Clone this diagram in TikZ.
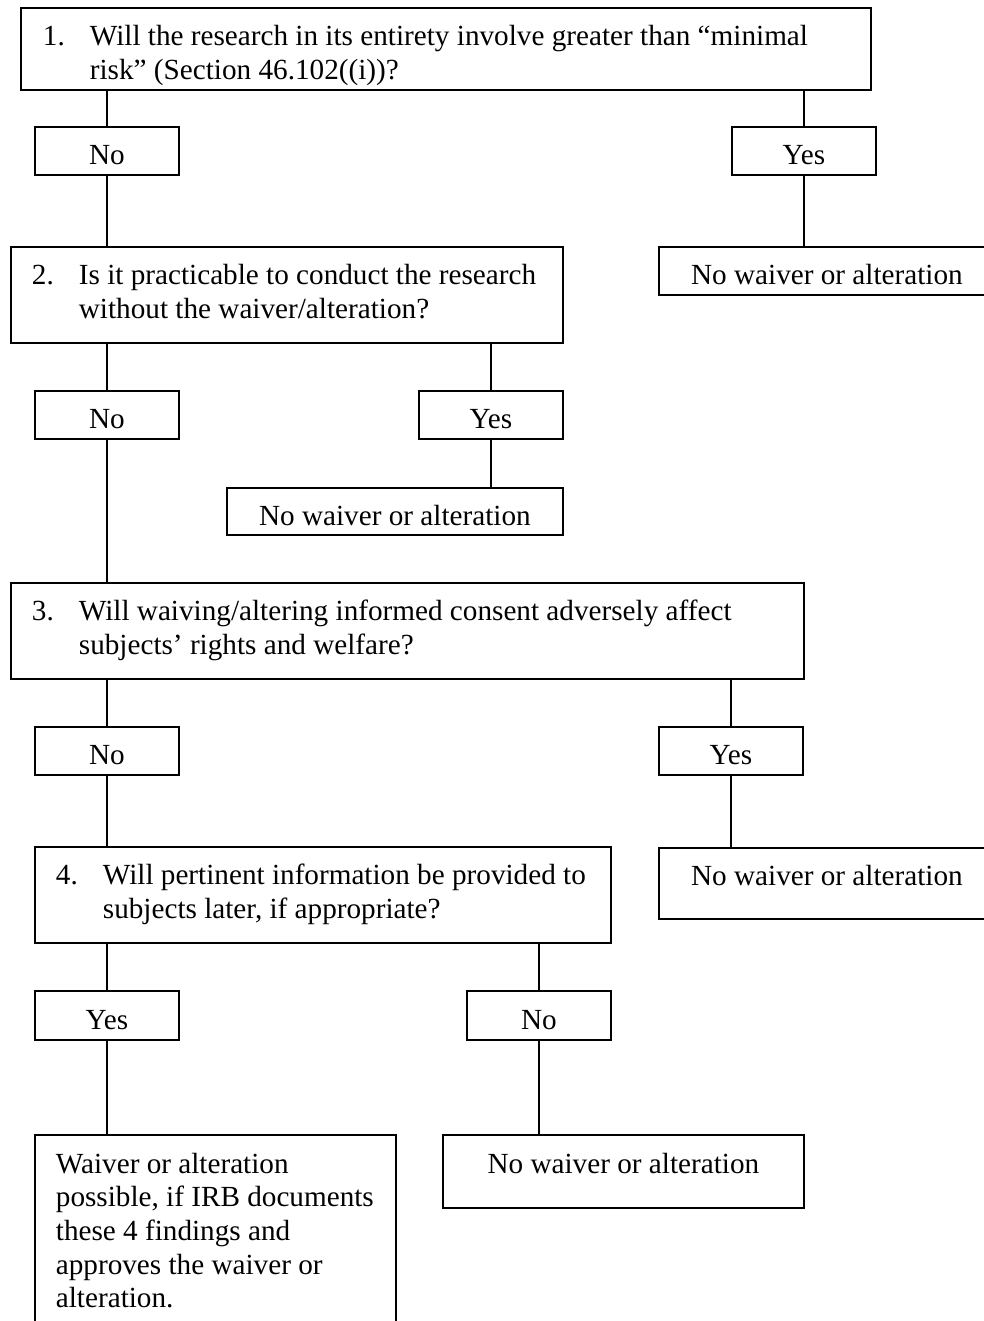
\documentclass[tikz,border=0pt]{standalone}
\usepackage{fontspec}
\setmainfont{Liberation Serif}
\usepackage{tikz}

% box contents: width, height, text (left or centred)
\newcommand{\qtext}[3]{\parbox[c][#2pt][t]{#1pt}{\vspace*{14.5pt}\strut#3}}
\newcommand{\atext}[3]{\parbox[c][#2pt][t]{#1pt}{\vspace*{14.5pt}\centering\strut#3}}

\begin{document}
\begin{tikzpicture}[x=1pt,y=1pt,yscale=-1,xscale=1,
  qbox/.style={draw, line width=1.8pt, inner sep=0pt, anchor=north west,
    font=\fontsize{29.2pt}{33.7pt}\selectfont},
  link/.style={line width=1.8pt}]
\useasboundingbox (0,0) rectangle (984,1321);

%Question 1
\node[qbox] (q1) at (20,7) {\qtext{850}{82}{\hspace*{22pt}\makebox[47pt][l]{1.}Will the research in its entirety involve greater than “minimal\\
  \hspace*{69pt}risk” (Section 46.102((i))?}};
\node[qbox] (no1) at (34,126) {\atext{144}{48}{No}};
\node[qbox] (yes1) at (731,126) {\atext{144}{48}{Yes}};

%Question 2
\node[qbox] (q2) at (10,246) {\qtext{552}{96}{\hspace*{21pt}\makebox[47pt][l]{2.}Is it practicable to conduct the research\\
  \hspace*{68pt}without the waiver/alteration?}};
\node[qbox] (nw1) at (658,246) {\atext{336}{48}{No waiver or alteration}};
\node[qbox] (no2) at (34,390) {\atext{144}{48}{No}};
\node[qbox] (yes2) at (418,390) {\atext{144}{48}{Yes}};
\node[qbox] (nw2) at (226,487) {\atext{336}{47}{No waiver or alteration}};

%Question 3
\node[qbox] (q3) at (10,582) {\qtext{793}{96}{\hspace*{21pt}\makebox[47pt][l]{3.}Will waiving/altering informed consent adversely affect\\
  \hspace*{68pt}subjects’ rights and welfare?}};
\node[qbox] (no3) at (34,726) {\atext{144}{48}{No}};
\node[qbox] (yes3) at (658,726) {\atext{144}{48}{Yes}};

%Question 4
\node[qbox] (q4) at (34,846) {\qtext{576}{96}{\hspace*{21pt}\makebox[47pt][l]{4.}Will pertinent information be provided to\\
  \hspace*{68pt}subjects later, if appropriate?}};
\node[qbox] (nw3) at (658,847) {\atext{336}{71}{No waiver or alteration}};
\node[qbox] (yes4) at (34,990) {\atext{144}{49}{Yes}};
\node[qbox] (no4) at (466,990) {\atext{144}{49}{No}};
\node[qbox] (ok) at (34,1134) {\qtext{361}{200}{\hspace*{21pt}Waiver or alteration\\
  \hspace*{21pt}possible, if IRB documents\\
  \hspace*{21pt}these 4 findings and\\
  \hspace*{21pt}approves the waiver or\\
  \hspace*{21pt}alteration.}};
\node[qbox] (nw4) at (442,1134) {\atext{361}{73}{No waiver or alteration}};

%Connectors
\draw[link] (no1.north |- q1.south) -- (no1.north);
\draw[link] (yes1.north |- q1.south) -- (yes1.north);
\draw[link] (no1.south) -- (no1.south |- q2.north);
\draw[link] (yes1.south) -- (yes1.south |- nw1.north);
\draw[link] (no2.north |- q2.south) -- (no2.north);
\draw[link] (yes2.north |- q2.south) -- (yes2.north);
\draw[link] (yes2.south) -- (yes2.south |- nw2.north);
\draw[link] (no2.south) -- (no2.south |- q3.north);
\draw[link] (no3.north |- q3.south) -- (no3.north);
\draw[link] (yes3.north |- q3.south) -- (yes3.north);
\draw[link] (yes3.south) -- (yes3.south |- nw3.north);
\draw[link] (no3.south) -- (no3.south |- q4.north);
\draw[link] (yes4.north |- q4.south) -- (yes4.north);
\draw[link] (no4.north |- q4.south) -- (no4.north);
\draw[link] (yes4.south) -- (yes4.south |- ok.north);
\draw[link] (no4.south) -- (no4.south |- nw4.north);

\end{tikzpicture}
\end{document}
